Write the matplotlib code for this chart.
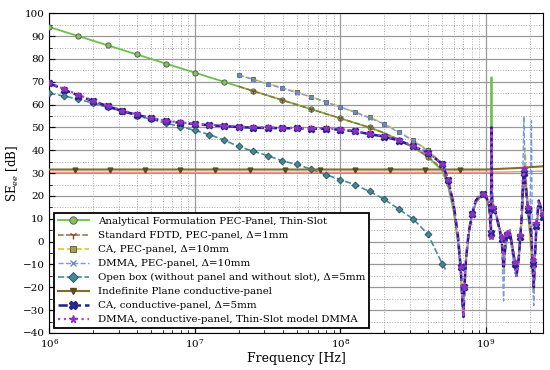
import numpy as np
import matplotlib
matplotlib.use('Agg')
from matplotlib import pyplot as plt
from matplotlib.ticker import MultipleLocator, LogLocator, NullFormatter

plt.rcParams['font.family'] = ['DejaVu Serif']
plt.rcParams['mathtext.fontset'] = 'dejavuserif'

# smooth part of the curves, one value every 0.1 decade (1 MHz .. 500 MHz)
FREQ_GRID = np.logspace(6, 8.7, 28)

ANALYTICAL_SMOOTH = [94, 92, 90, 88, 86, 84, 82, 80, 78, 76, 74, 72, 70, 68, 66, 64,
                     62, 60, 58, 56, 54, 52, 50, 47.6, 44.6, 41.2, 37.2, 31.0]
# PEC-panel simulations start at 2e7 (grid index 13)
PEC_START = 13
FDTD_PEC_SMOOTH = [68.0, 66.0, 64.0, 62.0, 60.0, 58.0, 56.0, 54.0, 52.0, 50.0, 47.6,
                   44.8, 41.4, 37.4, 31.6]
CA_PEC_SMOOTH = [73.2, 71.1, 69.2, 67.4, 65.5, 63.4, 61.2, 59.0, 56.8, 54.4, 51.7,
                 48.1, 44.4, 40.1, 34.3]
DMMA_PEC_SMOOTH = [73.0, 71.0, 69.0, 67.2, 65.3, 63.3, 61.1, 58.9, 56.6, 54.2, 51.5,
                   47.9, 44.2, 39.8, 34.0]
OPEN_BOX = [65.0, 63.8, 62.4, 60.6, 58.8, 57.1, 55.1, 53.6, 51.9, 50.4, 48.7, 46.9,
            44.5, 41.7, 39.6, 37.7, 35.4, 33.8, 31.7, 29.3, 27.2, 24.9, 22.0, 18.6,
            14.3, 9.9, 3.3, -9.8]
OPEN_BOX_END_F = [5.3e8]
OPEN_BOX_END = [-12.5]
CA_COND_SMOOTH = [69.4, 66.6, 64.0, 61.5, 59.4, 57.2, 55.6, 54.0, 52.8, 52.0, 51.5,
                  51.0, 50.6, 50.2, 49.9, 49.8, 49.7, 49.6, 49.5, 49.4, 49.0, 48.3,
                  47.1, 46.0, 44.3, 41.8, 38.9, 34.0]
DMMA_COND_SMOOTH = [69.6, 66.9, 64.3, 61.8, 59.6, 57.4, 55.8, 54.2, 53.0, 52.2, 51.7,
                    51.2, 50.8, 50.4, 50.1, 50.0, 49.9, 49.8, 49.7, 49.6, 49.2, 48.5,
                    47.3, 46.2, 44.5, 42.0, 39.0, 34.2]

# resonance region
FREQ_TAIL = [5.5e8, 6.0e8, 6.4e8, 6.7e8, 6.9e8, 7.0e8, 7.1e8, 7.3e8, 7.6e8, 8.0e8,
             8.5e8, 9.0e8, 9.5e8, 1.0e9, 1.05e9, 1.08e9, 1.09e9, 1.10e9, 1.12e9,
             1.16e9, 1.22e9, 1.28e9, 1.32e9, 1.35e9, 1.40e9, 1.46e9, 1.52e9, 1.58e9,
             1.62e9, 1.68e9, 1.72e9, 1.76e9, 1.79e9, 1.82e9, 1.86e9, 1.90e9, 1.95e9,
             2.0e9, 2.05e9, 2.09e9, 2.13e9, 2.17e9, 2.22e9, 2.30e9, 2.38e9, 2.45e9]
ANALYTICAL_TAIL = [24, 13, 0, -14, -26, -30, -22, -8, 3, 11, 17, 19, 20, 19, 15, 12, 72,
                   20, 15, 13, 8, 2, -8, -2, 3, 5, -2, -8, -12, -6, 2, 10, 18, 25, 30,
                   22, 12, 4, -6, -14, -18, -6, 6, 16, 14, 10]
FDTD_PEC_TAIL = [25, 14, 1, -13, -25, -31, -22, -8, 3, 11, 17, 19, 20, 19, 15, 11, 40,
                 22, 15, 13, 8, 2, -10, -3, 2, 4, -3, -9, -12, -7, 1, 9, 18, 26, 32,
                 24, 14, 6, -4, -12, -20, -6, 6, 16, 14, 10]
CA_PEC_TAIL = [26, 15, 2, -12, -26, -33, -20, -7, 4, 12, 17, 20, 21, 20, 16, 8, 45,
               18, 15, 13, 7, 1, -14, -4, 2, 3, -4, -10, -14, -8, 0, 10, 22, 30, 41,
               20, 10, 2, -8, -16, -25, -8, 6, 17, 15, 11]
DMMA_PEC_TAIL = [26, 15, 2, -12, -27, -32, -21, -7, 4, 12, 17, 20, 21, 20, 16, 6, 48,
                 20, 15, 12, 7, 0, -26, -6, 1, 2, -6, -14, -12, -8, 0, 12, 30, 55, 28,
                 18, 10, 8, 53, -18, -28, -10, 5, 16, 14, 10]
CA_COND_TAIL = [27, 16, 3, -11, -28, -33, -20, -7, 4, 12, 18, 20, 21, 20, 16, 4, 50,
                17, 14, 13, 7, 1, -12, -3, 3, 4, -3, -10, -15, -7, 2, 12, 25, 30, 26,
                20, 14, 8, 2, -10, -20, -6, 7, 18, 15, 11]
DMMA_COND_TAIL = [27, 16, 3, -11, -28, -33, -20, -7, 4, 12, 18, 20, 21, 21, 17, 2, 50,
                  18, 15, 13, 8, 2, -10, -2, 4, 5, -2, -9, -16, -6, 3, 14, 28, 32, 25,
                  20, 15, 10, 4, -8, -19, -5, 8, 18, 15, 12]

# indefinite plane: samples (the triangles) then the slow rise at the top end
PLANE_F = [1e6, 1.50e6, 2.61e6, 4.54e6, 7.91e6, 1.37e7, 2.39e7, 4.16e7, 7.23e7,
           1.26e8, 2.19e8, 3.80e8, 6.61e8, 1e9, 1.6e9, 2.45e9]
PLANE_DB = [31.6, 31.6, 31.6, 31.6, 31.6, 31.6, 31.6, 31.6, 31.6, 31.6, 31.6, 31.6,
            31.6, 31.6, 32.2, 33.0]
PLANE_REF_F = [1e6, 1e9, 1.6e9, 2.45e9]
PLANE_REF_DB = [30.4, 30.4, 30.6, 30.9]

LABELS = ['Analytical Formulation PEC-Panel, Thin-Slot',
          'Standard FDTD, PEC-panel, Δ=1mm',
          'CA, PEC-panel, Δ=10mm',
          'DMMA, PEC-panel, Δ=10mm',
          'Open box (without panel and without slot), Δ=5mm',
          'Indefinite Plane conductive-panel',
          'CA, conductive-panel, Δ=5mm',
          'DMMA, conductive-panel, Thin-Slot model DMMA']


def full(smooth, tail, start=0):
  f = np.concatenate([FREQ_GRID[start:], FREQ_TAIL])
  v = np.concatenate([smooth, tail])
  return f, v


fig = plt.figure(figsize=(5.5, 3.7), dpi=100)
ax = fig.add_axes([0.0897, 0.1, 0.897, 0.864])

n_s = len(FREQ_GRID)
n_p = n_s - PEC_START
n_t = len(FREQ_TAIL)
cond_marks = list(range(n_s)) + list(range(n_s, n_s + n_t, 3))

f, v = full(ANALYTICAL_SMOOTH, ANALYTICAL_TAIL)
ax.plot(f, v, '-', color='#6cc04a', lw=1.3, marker='o', ms=3.8, mfc='#8fb870', mec='#3f5f35',
        mew=0.6, markevery=list(range(0, n_s, 2)), label=LABELS[0], zorder=3)

f, v = full(FDTD_PEC_SMOOTH, FDTD_PEC_TAIL, PEC_START)
ax.plot(f, v, '--', color='#a06a3a', lw=1.1, marker='1', ms=4, mec='#804030',
        markevery=list(range(1, n_p, 2)), label=LABELS[1], zorder=3)

f, v = full(CA_PEC_SMOOTH, CA_PEC_TAIL, PEC_START)
ax.plot(f, v, '--', color='#d6c830', lw=1.2, marker='s', ms=3.5, mfc='#a8a050', mec='#55553a',
        mew=0.6, markevery=list(range(0, n_p)), label=LABELS[2], zorder=3)

f, v = full(DMMA_PEC_SMOOTH, DMMA_PEC_TAIL, PEC_START)
ax.plot(f, v, '--', color='#7a9ae0', lw=1.0, marker='x', ms=3.5, mec='#6a8ad0',
        markevery=list(range(0, n_p)), label=LABELS[3], zorder=3)

ax.plot(np.concatenate([FREQ_GRID, OPEN_BOX_END_F]), OPEN_BOX + OPEN_BOX_END, '--',
        color='#4a8a98', lw=1.2, marker='D', ms=3.5, mfc='#3f8a98', mec='#2a4a55', mew=0.6,
        markevery=list(range(n_s)), label=LABELS[4], zorder=3)

ax.plot(PLANE_REF_F, PLANE_REF_DB, '-', color='#e09a88', lw=1.0, zorder=2)
ax.plot(PLANE_F, PLANE_DB, '-', color='#8a6a2a', lw=1.5, marker='v', ms=3.5, mfc='#5a4a20',
        mec='#5a4a20', markevery=list(range(1, 13)), label=LABELS[5], zorder=3)

f, v = full(CA_COND_SMOOTH, CA_COND_TAIL)
ax.plot(f, v, '--', color='#20208a', lw=1.8, marker='X', ms=4.5, mfc='#2a2a90', mec='#20208a',
        markevery=cond_marks, label=LABELS[6], zorder=4)

f, v = full(DMMA_COND_SMOOTH, DMMA_COND_TAIL)
ax.plot(f, v, ':', color='#b040e0', lw=1.6, marker='*', ms=4, mfc='#9030c0', mec='#9030c0',
        markevery=cond_marks, label=LABELS[7], zorder=4)

ax.set_xscale('log')
ax.set_xlim(1e6, 2.45e9)
ax.set_ylim(-40, 100)
ax.yaxis.set_major_locator(MultipleLocator(10))
ax.yaxis.set_minor_locator(MultipleLocator(5))
ax.xaxis.set_minor_locator(LogLocator(base=10, subs=np.arange(2, 10)))
ax.xaxis.set_minor_formatter(NullFormatter())
ax.grid(True, which='major', color='#999999', lw=0.9, ls='-')
ax.grid(True, which='minor', color='#aaaaaa', lw=0.7, ls=':')
ax.set_axisbelow(True)
ax.tick_params(which='both', direction='in', labelsize=7.5)
ax.tick_params(which='major', length=4)
ax.tick_params(which='minor', length=2)

ax.set_xlabel('Frequency [Hz]', fontsize=9, labelpad=1)
ax.set_ylabel('SE$_{ee}$ [dB]', fontsize=8.5, labelpad=1)

leg = ax.legend(loc='lower left', fontsize=7.4, frameon=True, fancybox=False, framealpha=1,
                edgecolor='black', handlelength=3.0, handletextpad=0.9, labelspacing=0.47,
                borderpad=0.35, borderaxespad=0.5, markerscale=1.4)
leg.get_frame().set_linewidth(1.3)
leg.set_zorder(10)

fig.savefig('out.png', dpi=100)
